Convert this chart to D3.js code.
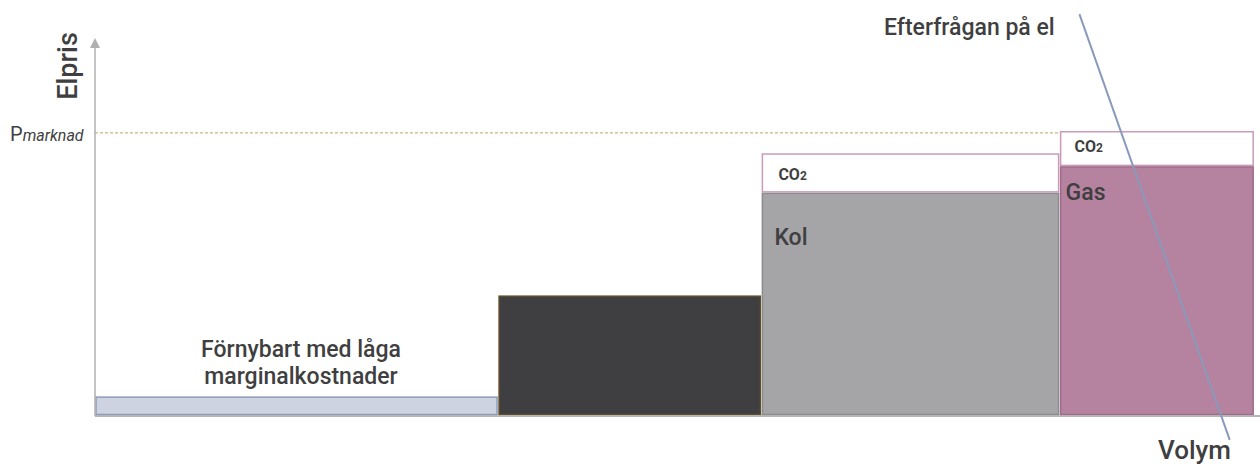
<!DOCTYPE html>
<html>
<head>
<meta charset="utf-8">
<script src="https://cdn.jsdelivr.net/npm/d3@7"></script>
<style>
  body { margin:0; background:#fff; }
  svg text { font-family: Roboto, "DejaVu Sans", sans-serif; fill:#3f3f41; }
</style>
</head>
<body>
<div id="chart"></div>
<script>
// Merit order: volym (x) och marginalkostnad / elpris (y)
const sources   = ["Förnybart", "Kärnkraft", "Kol", "Gas"];
const volumes   = [34.6, 22.6, 25.6, 16.7];     // bredd på varje block
const costs     = [5, 31.7, 58.9, 65.9];        // marginalkostnad utan CO2
const co2Costs  = [0, 0, 10.4, 9.3];            // CO2-påslag
const fills     = ["#cdd3e0", "#3f3e40", "#a5a5a7", "#b5829f"];
const strokes   = ["#8e9cb8", "#5e4d28", "#8c8c8e", "#a06a8a"];
const pMarknad  = 74.9;
const demandTop = [84.5, 106.3];   // [volym, pris]
const demandBot = [97.4, -6.3];

const width = 1260, height = 468;
const svg = d3.select("#chart").append("svg")
  .attr("width", width)
  .attr("height", height);

const x = d3.scaleLinear().domain([0, 100]).range([95, 1260]);
const y = d3.scaleLinear().domain([0, 100]).range([416, 38]);

// block positions
let acc = 0;
const blocks = sources.map((s, i) => {
  const b = {name: s, x0: acc, x1: acc + volumes[i], cost: costs[i], co2: co2Costs[i], fill: fills[i], stroke: strokes[i]};
  acc += volumes[i];
  return b;
});

// P marknad dashed line
svg.append("line")
  .attr("x1", x(0)).attr("x2", x(blocks[3].x0))
  .attr("y1", y(pMarknad)).attr("y2", y(pMarknad))
  .attr("stroke", "#c9b77a").attr("stroke-width", 1.2)
  .attr("stroke-dasharray", "3,2");

// bars
svg.append("g").selectAll("rect")
  .data(blocks)
  .join("rect")
  .attr("x", d => x(d.x0) + 1)
  .attr("y", d => y(d.cost))
  .attr("width", d => x(d.x1) - x(d.x0) - 2)
  .attr("height", d => y(0) - y(d.cost) - 1.5)
  .attr("fill", d => d.fill)
  .attr("stroke", d => d.stroke)
  .attr("stroke-width", 1.5);

// CO2 boxes
const co2 = blocks.filter(d => d.co2 > 0);
svg.append("g").selectAll("rect")
  .data(co2)
  .join("rect")
  .attr("x", d => x(d.x0) + 1)
  .attr("y", d => y(d.cost + d.co2))
  .attr("width", d => x(d.x1) - x(d.x0) - 2)
  .attr("height", d => y(d.cost) - y(d.cost + d.co2) - 1.5)
  .attr("fill", "#fff")
  .attr("stroke", "#c89cb9")
  .attr("stroke-width", 1.5);

svg.append("g").selectAll("text")
  .data(co2)
  .join("text")
  .attr("x", (d, i) => x(d.x0) + (i === 0 ? 17 : 15))
  .attr("y", (d, i) => (y(d.cost + d.co2) + y(d.cost)) / 2 + (i === 0 ? 6 : 3))
  .attr("font-size", 16).attr("font-weight", 700)
  .each(function() {
    const t = d3.select(this);
    t.append("tspan").text("CO");
    t.append("tspan").attr("font-size", 12).text("2");
  });

// axes
svg.append("line")
  .attr("x1", x(0)).attr("x2", width)
  .attr("y1", y(0)).attr("y2", y(0))
  .attr("stroke", "#b5b5b5").attr("stroke-width", 2);
svg.append("line")
  .attr("x1", x(0)).attr("x2", x(0))
  .attr("y1", y(0)).attr("y2", y(100) + 8)
  .attr("stroke", "#b0b0b0").attr("stroke-width", 1.5);
svg.append("path")
  .attr("d", `M${x(0) - 5},${y(100) + 10}L${x(0)},${y(100)}L${x(0) + 5},${y(100) + 10}Z`)
  .attr("fill", "#b0b0b0");

// demand line
svg.append("line")
  .attr("x1", x(demandTop[0])).attr("y1", y(demandTop[1]))
  .attr("x2", x(demandBot[0])).attr("y2", y(demandBot[1]))
  .attr("stroke", "#8a9aba").attr("stroke-width", 2);

// labels
svg.append("text")
  .attr("transform", "translate(77,66) rotate(-90)")
  .attr("text-anchor", "middle")
  .attr("font-size", 27).attr("font-weight", 500)
  .text("Elpris");

const pm = svg.append("text")
  .attr("x", 10).attr("y", y(pMarknad) + 8)
  .attr("font-size", 20);
pm.append("tspan").text("P");
pm.append("tspan").attr("font-size", 16).attr("font-style", "italic").text("marknad");

svg.append("text")
  .attr("x", 884).attr("y", 35)
  .attr("font-size", 23).attr("font-weight", 500)
  .text("Efterfrågan på el");

svg.append("text")
  .attr("x", 1158).attr("y", 459)
  .attr("font-size", 26).attr("font-weight", 500)
  .text("Volym");

svg.append("text")
  .attr("x", x(blocks[2].x0) + 13).attr("y", 245)
  .attr("font-size", 23).attr("font-weight", 500)
  .text("Kol");
svg.append("text")
  .attr("x", x(blocks[3].x0) + 6).attr("y", 200)
  .attr("font-size", 23).attr("font-weight", 500)
  .text("Gas");

svg.append("text")
  .attr("text-anchor", "middle")
  .attr("font-size", 23).attr("font-weight", 500)
  .selectAll("tspan")
  .data(["Förnybart med låga", "marginalkostnader"])
  .join("tspan")
  .attr("x", 301)
  .attr("y", (d, i) => 357 + i * 27)
  .text(d => d);
</script>
</body>
</html>
